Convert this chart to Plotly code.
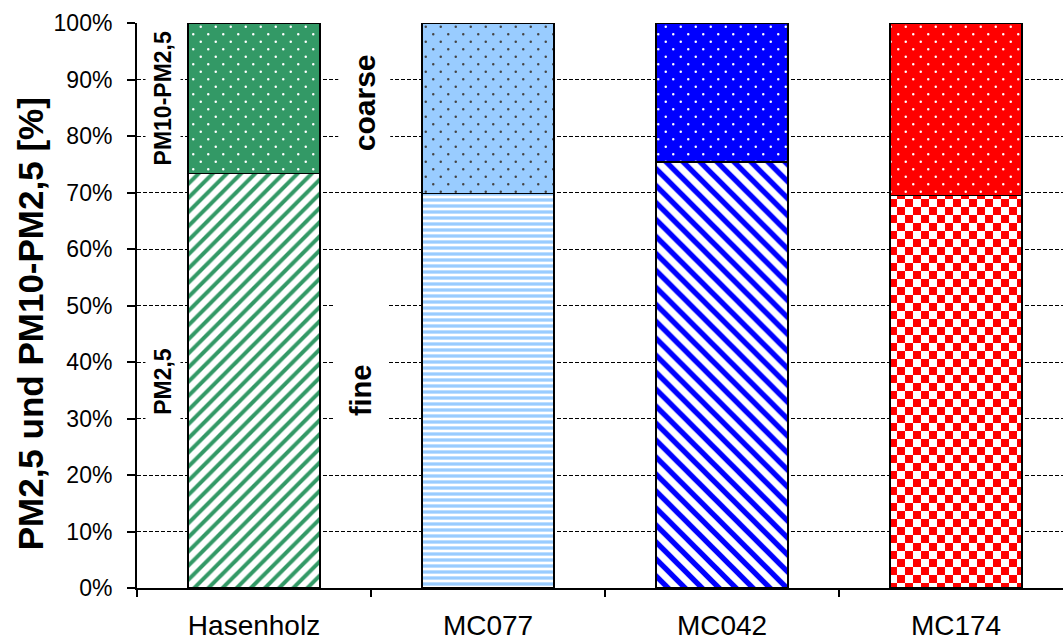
import plotly.graph_objects as go

# Sites and PM fractions (share of PM10, in %)
categories = ["Hasenholz", "MC077", "MC042", "MC174"]
fine_pct = [73.4, 69.8, 75.4, 69.5]      # PM2,5
coarse_pct = [26.6, 30.2, 24.6, 30.5]    # PM10-PM2,5

y_tick_vals = [0, 10, 20, 30, 40, 50, 60, 70, 80, 90, 100]
y_tick_text = ["0%", "10%", "20%", "30%", "40%", "50%", "60%", "70%", "80%", "90%", "100%"]

site_colors = ["#339966", "#99CCFF", "#0000FF", "#FF0000"]

FONT = "Arial, Liberation Sans, sans-serif"

# custom fill tiles: checkerboard and staggered dots
CHECKER = "M0,0H8V8H0Z M8,8H16V16H8Z"
DOTS = ("M2.5,3.75a1.25,1.25 0 1,0 2.5,0a1.25,1.25 0 1,0 -2.5,0Z "
        "M10,11.25a1.25,1.25 0 1,0 2.5,0a1.25,1.25 0 1,0 -2.5,0Z")

bar_w = 0.564
outline = dict(color="black", width=1.2)

fig = go.Figure()

# fine fraction, hatched sites
fig.add_trace(go.Bar(
    x=categories[:3], y=fine_pct[:3], name="PM2,5", width=bar_w,
    cliponaxis=False,
    marker=dict(
        color="white",
        line=outline,
        pattern=dict(
            shape=["/", "-", "\\"],
            fgcolor=site_colors[:3],
            size=[10, 6, 12],
            solidity=[0.4, 0.55, 0.45],
            fillmode="overlay",
            fgopacity=1,
        ),
    ),
    hoverinfo="skip",
))

# fine fraction, checkered site
fig.add_trace(go.Bar(
    x=categories[3:], y=fine_pct[3:], name="PM2,5", width=bar_w,
    cliponaxis=False,
    marker=dict(
        color="white",
        line=outline,
        pattern=dict(
            path=CHECKER,
            fgcolor=site_colors[3],
            size=16,
            fillmode="overlay",
            fgopacity=1,
        ),
    ),
    hoverinfo="skip",
))

# coarse fraction, dotted
fig.add_trace(go.Bar(
    x=categories, y=coarse_pct, name="PM10-PM2,5", width=bar_w,
    cliponaxis=False,
    marker=dict(
        color=site_colors,
        line=outline,
        pattern=dict(
            path=DOTS,
            fgcolor="white",
            size=15,
            fillmode="overlay",
            fgopacity=1,
        ),
    ),
    hoverinfo="skip",
))

box_font = dict(family=FONT, color="black")

fig.add_annotation(x=-0.115, y=0.4676, xref="paper", yref="paper",
                   xanchor="center", yanchor="middle",
                   text="<b>PM2,5 und PM10-PM2,5 [%]</b>", textangle=-90,
                   showarrow=False, font=dict(size=35, **box_font))

fig.add_annotation(x=0.47, y=85.8, xref="x", yref="y",
                   text="<b>coarse</b>", textangle=-90, showarrow=False,
                   font=dict(size=30, **box_font), bgcolor="white", borderpad=9)

fig.add_annotation(x=0.46, y=40.1, xref="x", yref="y",
                   text="<b>fine</b>", textangle=-90, showarrow=False,
                   width=110, height=38, align="left",
                   font=dict(size=29, **box_font), bgcolor="white", borderpad=8)

fig.add_annotation(x=-0.39, y=86.6, xref="x", yref="y",
                   text="<b>PM10-PM2,5</b>", textangle=-90, showarrow=False,
                   font=dict(size=23, **box_font), bgcolor="white", borderpad=4)

fig.add_annotation(x=-0.39, y=36.5, xref="x", yref="y",
                   text="<b>PM2,5</b>", textangle=-90, showarrow=False,
                   width=82, font=dict(size=23, **box_font),
                   bgcolor="white", borderpad=4)

fig.update_layout(
    width=1063, height=641,
    margin=dict(l=137, r=0, t=23, b=51),
    paper_bgcolor="white", plot_bgcolor="white",
    barmode="stack", showlegend=False,
    font=dict(family=FONT, color="black"),
)

fig.update_xaxes(
    type="category", range=[-0.5, 3.457],
    showline=True, linecolor="black", linewidth=2,
    ticks="outside", tickson="boundaries", ticklen=7, tickwidth=1.5, tickcolor="black",
    tickfont=dict(size=28, family=FONT, color="black"),
    ticklabelstandoff=11,
    showgrid=False, zeroline=False,
)

fig.update_yaxes(
    range=[0, 100], tickvals=y_tick_vals, ticktext=y_tick_text,
    showline=True, linecolor="black", linewidth=2,
    ticks="outside", ticklen=8, tickwidth=1.5, tickcolor="black",
    tickfont=dict(size=23, family=FONT, color="black"),
    ticklabelstandoff=10,
    showgrid=True, gridcolor="black", gridwidth=1, griddash="4px,2px",
    zeroline=False,
)

fig.write_html("out.html")
